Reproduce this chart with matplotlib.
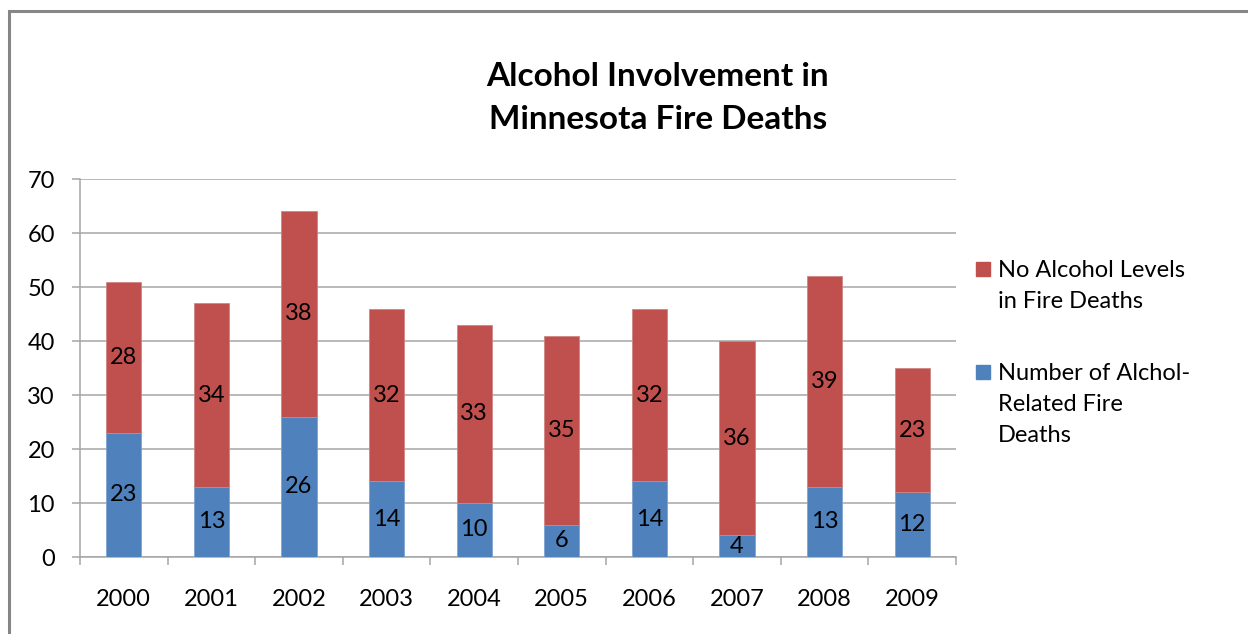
import matplotlib
matplotlib.use('Agg')
import matplotlib.pyplot as plt
from matplotlib.patches import Rectangle
import numpy as np

plt.rcParams['font.family'] = ['Lato', 'DejaVu Sans']

years = ['2000', '2001', '2002', '2003', '2004', '2005', '2006', '2007', '2008', '2009']
alcohol = [23, 13, 26, 14, 10, 6, 14, 4, 13, 12]
no_alcohol = [28, 34, 38, 32, 33, 35, 32, 36, 39, 23]
yticks = [0, 10, 20, 30, 40, 50, 60, 70]

BLUE = '#4F81BD'
RED = '#C0504D'
GRID = '#A6A6A6'
FS = 17

W, H = 1248, 634
fig = plt.figure(figsize=(W / 100, H / 100), dpi=100)
ax = fig.add_axes([80 / W, 1 - 557 / H, 876 / W, (557 - 179) / H])

x = np.arange(len(years))
ax.bar(x, alcohol, width=0.4, color=BLUE, edgecolor='#7FA3D0', linewidth=0.6, zorder=3)
ax.bar(x, no_alcohol, width=0.4, bottom=alcohol, color=RED, edgecolor='#D08583',
       linewidth=0.6, zorder=3)

for i in range(len(years)):
    ax.text(x[i], alcohol[i] / 2, str(alcohol[i]), ha='center', va='center',
            fontsize=FS, zorder=4)
    ax.text(x[i], alcohol[i] + no_alcohol[i] / 2, str(no_alcohol[i]), ha='center',
            va='center', fontsize=FS, zorder=4)

ax.set_xlim(-0.5, len(years) - 0.5)
ax.set_ylim(0, 70)
ax.set_yticks(yticks)
ax.yaxis.grid(True, color=GRID, linewidth=1.1, zorder=0)
ax.set_axisbelow(True)

ax.set_xticks(x)
ax.set_xticklabels(years)
ax.set_xticks(np.arange(-0.5, len(years), 1.0), minor=True)
ax.tick_params(axis='x', which='major', length=0, pad=23, labelsize=FS)
ax.tick_params(axis='x', which='minor', length=6, color=GRID, width=1.1)
ax.tick_params(axis='y', length=6, color=GRID, width=1.1, pad=12, labelsize=FS)

for side in ['top', 'right']:
    ax.spines[side].set_visible(False)
for side in ['left', 'bottom']:
    ax.spines[side].set_color(GRID)
    ax.spines[side].set_linewidth(1.1)

# title
fig.text(658 / W, 1 - 98 / H, 'Alcohol Involvement in\nMinnesota Fire Deaths',
         ha='center', va='center', fontsize=24, fontweight='bold', linespacing=1.62)

# legend drawn by hand
fig.patches.append(Rectangle((976 / W, 1 - 276 / H), 14 / W, 14 / H,
                             transform=fig.transFigure, color=RED))
fig.text(998 / W, 1 - 260 / H, 'No Alcohol Levels\nin Fire Deaths', ha='left',
         va='top', fontsize=FS, linespacing=1.6)
fig.patches.append(Rectangle((976 / W, 1 - 379 / H), 14 / W, 14 / H,
                             transform=fig.transFigure, color=BLUE))
fig.text(998 / W, 1 - 363 / H, 'Number of Alchol-\nRelated Fire\nDeaths', ha='left',
         va='top', fontsize=FS, linespacing=1.6)

# outer chart border
fig.patches.append(Rectangle((9 / W, -0.2), 1.5, 1.2 - 11 / H, transform=fig.transFigure,
                             fill=False, edgecolor='#868686', linewidth=2.2))

fig.savefig('out.png', dpi=100)
